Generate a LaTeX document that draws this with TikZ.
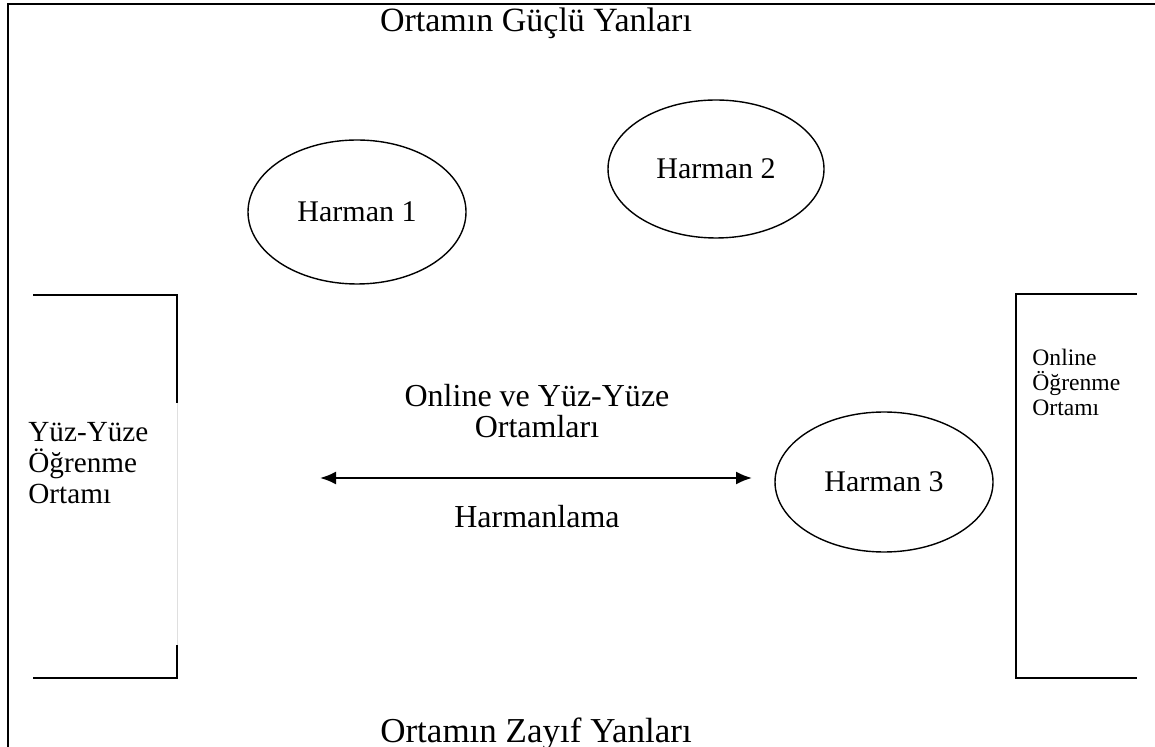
\documentclass[tikz,border=0pt]{standalone}
\usepackage{fontspec}
\setmainfont{Liberation Serif}
\usetikzlibrary{arrows.meta}
\usetikzlibrary{shapes.geometric}

\begin{document}
\begin{tikzpicture}[x=0.5pt,y=-0.5pt,
    harman/.style={draw,ellipse,line width=0.7pt,inner sep=0pt,font=\fontsize{15}{18}\selectfont},
    edge/.style={line width=1pt},
    label/.style={inner sep=0pt,font=\fontsize{16}{15.5}\selectfont}]

		\useasboundingbox (0,0) rectangle (1155,747);

		% outer frame (only top and left visible)
		\draw [edge] (8,747) -- (8,4) -- (1155,4);

		\node [label,anchor=base,font=\fontsize{17}{18}\selectfont] (guclu) at (536,32) {Ortamın Güçlü Yanları};
		\node [label,anchor=base,font=\fontsize{17.5}{18}\selectfont] (zayif) at (536,742) {Ortamın Zayıf Yanları};

		% harmanlar
		\node [harman,minimum width=109pt,minimum height=72pt] (h1) at (357,212) {Harman 1};
		\node [harman,minimum width=108pt,minimum height=69pt] (h2) at (716,169) {Harman 2};
		\node [harman,minimum width=109pt,minimum height=70pt] (h3) at (884,482) {Harman 3};

		% yuz-yuze ortam
		\draw [edge] (33,295) -- (177,295) -- (177,403);
		\draw [gray!25, line width=0.4pt] (177,403) -- (177,645);
		\draw [edge] (177,645) -- (177,678) -- (33,678);
		\node [label,anchor=west,align=left,font=\fontsize{14.6}{15.5}\selectfont] (yuz) at (28,463) {Yüz-Yüze\\Öğrenme\\Ortamı};

		% online ortam
		\draw [edge] (1137,294) -| (1016,678) -- (1137,678);
		\node [label,anchor=west,align=left,font=\fontsize{11.8}{12.5}\selectfont] (onl) at (1032,382) {Online\\Öğrenme\\Ortamı};

		% harmanlama
		\node [label,align=center] (ortam) at (537,411) {Online ve Yüz-Yüze\\Ortamları};
		\node [label] (harm) at (537,517) {Harmanlama};

		\coordinate (L) at (320,478);
		\coordinate (R) at (752,478);
		\draw [edge,{Latex[length=8pt,width=6.5pt]}-{Latex[length=8pt,width=6.5pt]}] (L) -- (R);
\end{tikzpicture}
\end{document}
